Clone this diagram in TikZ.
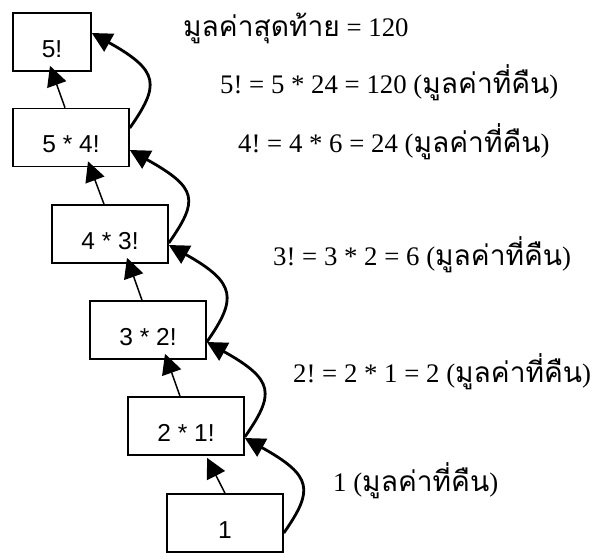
\documentclass[tikz,border=0pt]{standalone}
\usepackage{fontspec}
\setmainfont{Liberation Serif}
\setsansfont{Liberation Sans}
\newfontfamily\thaifont[Script=Thai,Scale=1.05]{Loma}
\usetikzlibrary{arrows.meta}
\newcommand{\thaitxt}[1]{{\thaifont #1}}
\frenchspacing

\begin{document}
\begin{tikzpicture}[x=1pt,y=-1pt,
    fbox/.style={draw, line width=1.6pt, minimum width=116pt, minimum height=58pt, inner sep=0pt,
      font=\sffamily\fontsize{24.5}{29}\selectfont, text height=40pt, text depth=10pt},
    calltxt/.style={anchor=base west, inner sep=0pt, font=\fontsize{26.8}{32}\selectfont},
    arr/.style={-{Triangle[length=20pt,width=20pt]}, line width=1.5pt},
    back/.style={-{Triangle[length=20pt,width=20pt]}, line width=2.8pt}]
    \useasboundingbox (0,0) rectangle (602,552);
    % Nodes
    \node[fbox, minimum width=78pt] (b5) at (52,42) {5!};
    \node[fbox] (b4) at (71,137.5) {5 * 4!};
    \node[fbox] (b3) at (110,234) {4 * 3!};
    \node[fbox] (b2) at (148,330) {3 * 2!};
    \node[fbox] (b1) at (186,426) {2 * 1!};
    \node[fbox] (b0) at (225,523) {1};
    % Texts
    \node[calltxt] (r0) at (183,36) {\thaitxt{มูลค่าสุดท้าย} = 120};
    \node[calltxt] (r5) at (220,93) {5! = 5 * 24 = 120 (\thaitxt{มูลค่าที่คืน})};
    \node[calltxt] (r4) at (238,152) {4! = 4 * 6 = 24 (\thaitxt{มูลค่าที่คืน})};
    \node[calltxt] (r3) at (273,265) {3! = 3 * 2 = 6 (\thaitxt{มูลค่าที่คืน})};
    \node[calltxt] (r2) at (293,382) {2! = 2 * 1 = 2 (\thaitxt{มูลค่าที่คืน})};
    \node[calltxt] (r1) at (333,491) {1 (\thaitxt{มูลค่าที่คืน})};
    % Edges
    \draw[arr] ([xshift=-6pt]b4.north) -- ([xshift=-2pt,yshift=6pt]b5.south);
    \draw[arr] ([xshift=-6pt]b3.north) -- ([xshift=17pt,yshift=6pt]b4.south);
    \draw[arr] ([xshift=-6pt]b2.north) -- ([xshift=17pt,yshift=6pt]b3.south);
    \draw[arr] ([xshift=-6pt]b1.north) -- ([xshift=17pt,yshift=6pt]b2.south);
    \draw[arr] (b0.north) -- ([xshift=21pt,yshift=-2pt]b1.south);
    % Return values
    \draw[back] ([yshift=9.5pt]b4.east) .. controls +(30pt,43pt) and +(68pt,-38pt) .. ([yshift=9pt]b5.east);
    \draw[back] ([yshift=-9pt]b3.east) .. controls +(30pt,43pt) and +(68pt,-38pt) .. ([yshift=-12.5pt]b4.east);
    \draw[back] ([yshift=-12pt]b2.east) .. controls +(30pt,43pt) and +(68pt,-38pt) .. ([yshift=-11pt]b3.east);
    \draw[back] ([yshift=-11pt]b1.east) .. controls +(30pt,43pt) and +(68pt,-38pt) .. ([yshift=-12pt]b2.east);
    \draw[back] ([yshift=-10pt]b0.east) .. controls +(30pt,43pt) and +(68pt,-38pt) .. ([yshift=-12pt]b1.east);
\end{tikzpicture}
\end{document}
